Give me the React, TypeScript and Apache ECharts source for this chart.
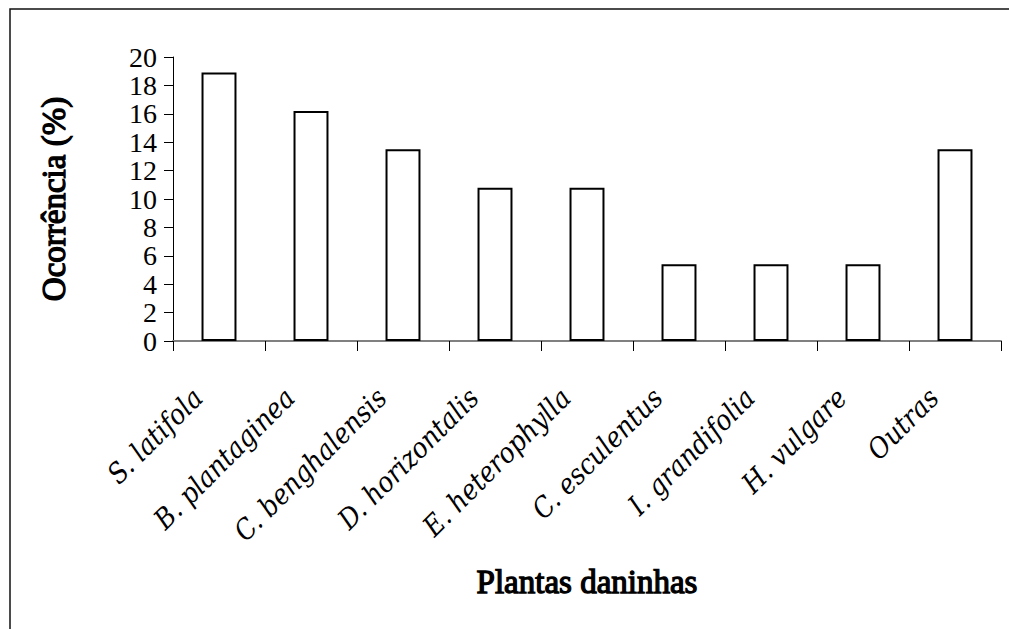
import React, { useEffect, useRef } from "react";
import * as echarts from "echarts";

const categories = [
  "S. latifola",
  "B. plantaginea",
  "C. benghalensis",
  "D. horizontalis",
  "E. heterophylla",
  "C. esculentus",
  "I. grandifolia",
  "H. vulgare",
  "Outras",
];
const occurrence = [18.9, 16.2, 13.5, 10.8, 10.8, 5.4, 5.4, 5.4, 13.5];
const yAxisTitle = "Ocorrência (%)";
const xAxisTitle = "Plantas daninhas";

const FONT = "'Liberation Serif', 'Times New Roman', serif";
const ITALIC_FONT = "'DejaVu Serif Condensed', 'DejaVu Serif', serif";

export default function App() {
  const ref = useRef<HTMLDivElement>(null);
  useEffect(() => {
    if (!ref.current) return;
    const chart = echarts.init(ref.current, null, { renderer: "svg" });
    chart.setOption({
      animation: false,
      backgroundColor: "#ffffff",
      grid: { left: 173, right: 8, top: 57, bottom: 288, containLabel: false },
      graphic: [
        {
          type: "polyline",
          shape: { points: [[10, 640], [10, 9], [1020, 9]] },
          style: { stroke: "#111", lineWidth: 1.5, fill: "none" },
          silent: true,
        },
      ],
      xAxis: {
        type: "category",
        data: categories,
        name: xAxisTitle,
        nameLocation: "middle",
        nameGap: 224,
        nameTextStyle: {
          fontFamily: FONT,
          fontSize: 33,
          color: "#000",
          textBorderColor: "#000",
          textBorderWidth: 1.3,
        },
        axisLine: { lineStyle: { color: "#808080", width: 2 } },
        axisTick: {
          show: true,
          alignWithLabel: false,
          length: 10,
          lineStyle: { color: "#000", width: 1 },
        },
        axisLabel: {
          interval: 0,
          rotate: 45,
          margin: 31,
          padding: [0, 30, 0, 0],
          fontFamily: ITALIC_FONT,
          fontStyle: "italic",
          fontSize: 28,
          color: "#000",
        },
        splitLine: { show: false },
      },
      yAxis: {
        type: "value",
        min: 0,
        max: 20,
        interval: 2,
        name: yAxisTitle,
        nameLocation: "middle",
        nameGap: 103,
        nameTextStyle: {
          fontFamily: FONT,
          fontSize: 33,
          color: "#000",
          textBorderColor: "#000",
          textBorderWidth: 1.3,
        },
        axisLine: { show: true, lineStyle: { color: "#000", width: 1 } },
        axisTick: { show: true, length: 9, lineStyle: { color: "#000", width: 1 } },
        axisLabel: {
          margin: 16,
          showMinLabel: true,
          showMaxLabel: true,
          hideOverlap: false,
          fontFamily: FONT,
          fontSize: 28,
          color: "#000",
        },
        splitLine: { show: false },
      },
      series: [
        {
          type: "bar",
          data: occurrence,
          barWidth: "38%",
          itemStyle: { color: "#ffffff", borderColor: "#000000", borderWidth: 2 },
        },
      ],
    });
    return () => chart.dispose();
  }, []);
  return (
    <div
      ref={ref}
      style={{ position: "fixed", left: 0, top: 0, width: 1009, height: 629 }}
    />
  );
}
